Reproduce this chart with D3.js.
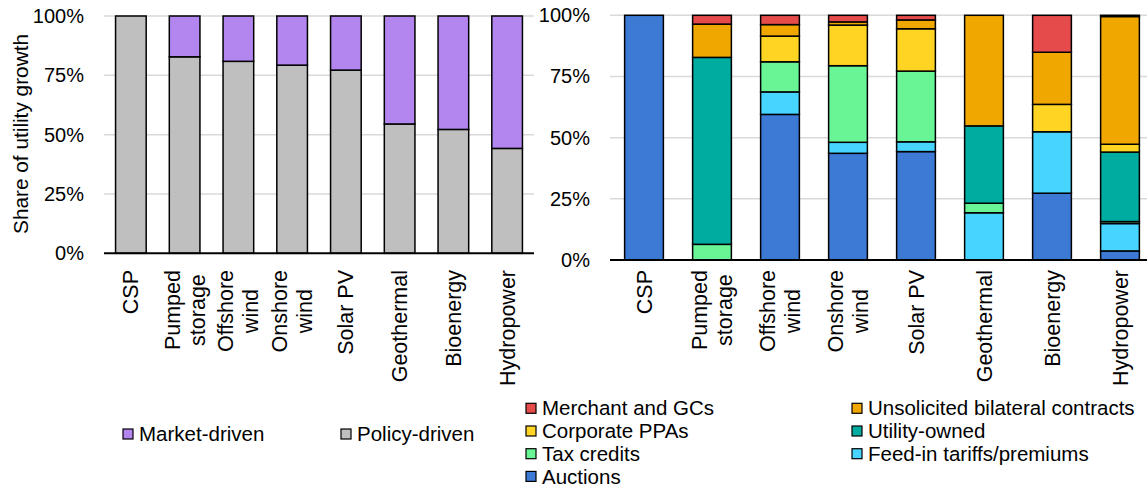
<!DOCTYPE html>
<html><head><meta charset="utf-8">
<script src="https://cdn.jsdelivr.net/npm/d3@7"></script>
<style>
body{margin:0;background:#fff;}
text{font-family:"Liberation Sans",Arial,sans-serif;fill:#000;}
</style></head>
<body>
<svg id="c" width="1147" height="488"></svg>
<script>
const categories = ["CSP","Pumped storage","Offshore wind","Onshore wind","Solar PV","Geothermal","Bioenergy","Hydropower"];
const catLines = [["CSP"],["Pumped","storage"],["Offshore","wind"],["Onshore","wind"],["Solar PV"],["Geothermal"],["Bioenergy"],["Hydropower"]];
const yTicks = [0,25,50,75,100];
const yTickLabels = ["0%","25%","50%","75%","100%"];

// Left chart
const policyDriven = [100, 82.8, 80.9, 79.3, 77.2, 54.5, 52.2, 44.2];
const marketDriven = [0, 17.2, 19.1, 20.7, 22.8, 45.5, 47.8, 55.8];
const leftSeries = ["Policy-driven","Market-driven"];
const leftColors = ["#bfbfbf","#b286ee"];

// Right chart (stack order bottom -> top)
const auctions    = [100, 0, 59.5, 43.6, 44.3, 0, 27.3, 3.7];
const feedIn      = [0, 0, 9.2, 4.5, 4.0, 19.3, 25.1, 11.2];
const taxCredits  = [0, 6.4, 12.3, 31.3, 28.9, 3.9, 0, 0.8];
const utilityOwned= [0, 76.4, 0, 0, 0, 31.6, 0, 28.4];
const corporatePPAs=[0, 0, 10.5, 16.6, 17.3, 0, 11.2, 3.2];
const unsolicited = [0, 13.6, 4.7, 1.3, 3.6, 45.2, 21.3, 52.2];
const merchant    = [0, 3.6, 3.8, 2.7, 1.9, 0, 15.1, 0.5];
const rightSeries = ["Auctions","Feed-in tariffs/premiums","Tax credits","Utility-owned","Corporate PPAs","Unsolicited bilateral contracts","Merchant and GCs"];
const rightValues = [auctions, feedIn, taxCredits, utilityOwned, corporatePPAs, unsolicited, merchant];
const rightColors = ["#3d7ad5","#47d4ff","#69f595","#00ac9f","#ffd422","#f0a800","#e64b4b"];

const svg = d3.select("#c");

function drawChart(cfg){
  const {x0,x1,yTop,yBottom,keys,valuesArr,colors,tickX} = cfg;
  const x = d3.scaleBand().domain(categories).range([x0,x1]).paddingInner(0.43).paddingOuter(0.215);
  const y = d3.scaleLinear().domain([0,100]).range([yBottom,yTop]);
  const g = svg.append("g");
  // gridlines
  g.selectAll("line.grid").data(yTicks.filter(t=>t>0)).enter().append("line")
    .attr("x1",x0).attr("x2",x1).attr("y1",d=>y(d)).attr("y2",d=>y(d))
    .attr("stroke","#d9d9d9").attr("stroke-width",1.5);
  // tick labels
  g.selectAll("text.tick").data(yTicks).enter().append("text")
    .attr("x",tickX).attr("y",d=>y(d)).attr("dy","0.35em")
    .attr("text-anchor","end").attr("font-size",20)
    .text((d,i)=>yTickLabels[i]);
  // stack
  const rows = categories.map((c,i)=>{const o={cat:c}; keys.forEach((k,j)=>o[k]=valuesArr[j][i]); return o;});
  const stack = d3.stack().keys(keys)(rows);
  stack.forEach((layer,j)=>{
    g.selectAll(null).data(layer.filter(d=>d[1]-d[0]>0)).enter().append("rect")
      .attr("x",d=>x(d.data.cat)).attr("width",x.bandwidth())
      .attr("y",d=>y(d[1])).attr("height",d=>y(d[0])-y(d[1]))
      .attr("fill",colors[j]).attr("stroke","#000").attr("stroke-width",1.5);
  });
  // baseline
  g.append("line").attr("x1",x0).attr("x2",x1).attr("y1",yBottom).attr("y2",yBottom)
    .attr("stroke","#000").attr("stroke-width",2);
  // category labels
  const lh = 25;
  categories.forEach((c,i)=>{
    const lines = catLines[i];
    const cx = x(c)+x.bandwidth()/2;
    const tg = g.append("g");
    const texts = lines.map((ln,k)=>tg.append("text").attr("font-size",21.5).attr("text-anchor","middle").text(ln));
    const maxW = d3.max(texts, t=>t.node().getComputedTextLength());
    const cy = 270 + maxW/2;
    texts.forEach((t,k)=>{
      const lx = cx + (k - (lines.length-1)/2)*lh;
      t.attr("transform",`translate(${lx},${cy}) rotate(-90)`).attr("dy","0.35em");
    });
  });
  return {x,y};
}

drawChart({x0:104,x1:534,yTop:16,yBottom:253.3,keys:leftSeries,valuesArr:[policyDriven,marketDriven],colors:leftColors,tickX:84});
drawChart({x0:610,x1:1154,yTop:15.3,yBottom:260,keys:rightSeries,valuesArr:rightValues,colors:rightColors,tickX:590});

// y-axis title
svg.append("text").attr("transform","translate(21,134) rotate(-90)").attr("dy","0.35em")
  .attr("text-anchor","middle").attr("font-size",20.8).text("Share of utility growth");

// legends
function legendItem(xs, yc, color, label){
  svg.append("rect").attr("x",xs).attr("y",yc-5).attr("width",10).attr("height",10)
    .attr("fill",color).attr("stroke","#000").attr("stroke-width",1.2);
  svg.append("text").attr("x",xs+16).attr("y",yc).attr("dy","0.35em").attr("font-size",20.5).text(label);
}
legendItem(123,434,leftColors[1],leftSeries[1]);
legendItem(341,434,leftColors[0],leftSeries[0]);

const col1 = [6,4,2,0], col2 = [5,3,1];
col1.forEach((j,r)=>legendItem(526,408.3+r*22.7,rightColors[j],rightSeries[j]));
col2.forEach((j,r)=>legendItem(852,408.3+r*22.7,rightColors[j],rightSeries[j]));
</script>
</body></html>
